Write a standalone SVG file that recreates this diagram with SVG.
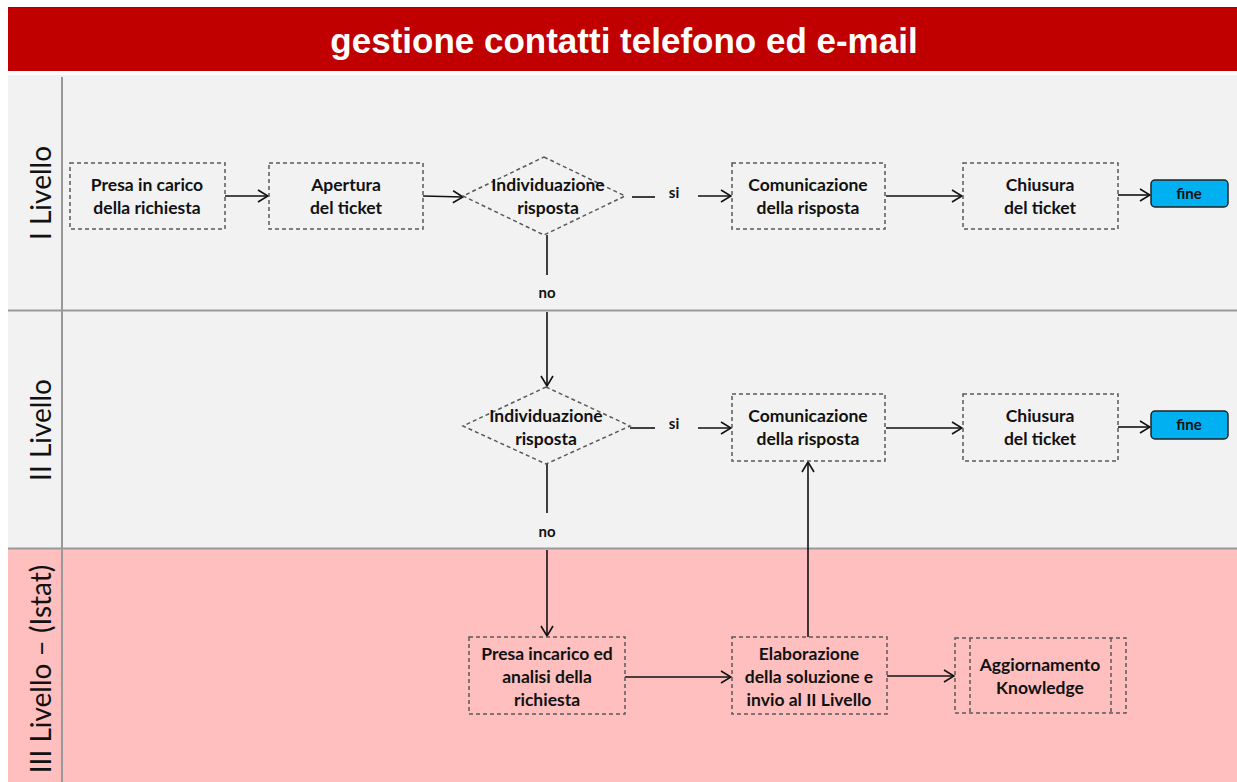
<svg xmlns="http://www.w3.org/2000/svg" width="1237" height="782" viewBox="0 0 1237 782">
<defs>
<style>
.box{fill:none;stroke:#595959;stroke-width:1.5;stroke-dasharray:4 3}
.t{font-family:Lato,"Open Sans",sans-serif;font-weight:bold;font-size:17.5px;fill:#111;text-anchor:middle}
.s{font-size:15px}
.lane{font-family:Lato,"Open Sans",sans-serif;font-size:28px;fill:#111;text-anchor:middle}
.c{fill:none;stroke:#111;stroke-width:1.6}
.fine{fill:#00B0F0;stroke:#222;stroke-width:1.5}
</style>
<marker id="ah" viewBox="0 0 12 14" refX="11" refY="7" markerWidth="12" markerHeight="14" markerUnits="userSpaceOnUse" orient="auto">
<path d="M1,1 L11,7 L1,13" fill="none" stroke="#111" stroke-width="1.6"/>
</marker>
</defs>
<rect x="0" y="0" width="1237" height="782" fill="#fff"/>
<g id="title">
<rect x="8" y="7" width="1229" height="64" fill="#C00000"/>
<line x1="8" y1="7.5" x2="1237" y2="7.5" stroke="#333" stroke-width="1"/>
<text x="624" y="53" font-family="Liberation Sans,Arial,sans-serif" font-weight="bold" font-size="35" fill="#fff" text-anchor="middle">gestione contatti telefono ed e-mail</text>
</g>
<g id="lanes">
<rect x="8" y="75" width="1229" height="235" fill="#F2F2F2"/>
<rect x="8" y="310" width="1229" height="238" fill="#F2F2F2"/>
<rect x="8" y="548" width="1229" height="234" fill="#FFBFBF"/>
<line x1="8" y1="310.5" x2="1237" y2="310.5" stroke="#999" stroke-width="2"/>
<line x1="8" y1="548.5" x2="1237" y2="548.5" stroke="#999" stroke-width="2"/>
<line x1="62" y1="77" x2="62" y2="782" stroke="#999" stroke-width="2"/>
<text class="lane" transform="translate(51,193) rotate(-90)">I Livello</text>
<text class="lane" transform="translate(51,430) rotate(-90)">II Livello</text>
<text class="lane" transform="translate(51,669) rotate(-90)">III Livello – (Istat)</text>
</g>
<g id="connectors">
<line class="c" x1="225" y1="196" x2="268" y2="196" marker-end="url(#ah)"/>
<line class="c" x1="423" y1="196" x2="463" y2="197" marker-end="url(#ah)"/>
<line class="c" x1="632" y1="197" x2="655" y2="197"/>
<line class="c" x1="698" y1="196" x2="731" y2="196" marker-end="url(#ah)"/>
<line class="c" x1="886" y1="196" x2="962" y2="196" marker-end="url(#ah)"/>
<line class="c" x1="1118" y1="195" x2="1150" y2="195" marker-end="url(#ah)"/>
<line class="c" x1="547" y1="235" x2="547" y2="275"/>
<line class="c" x1="547" y1="312" x2="547" y2="386" marker-end="url(#ah)"/>
<line class="c" x1="630" y1="428" x2="655" y2="428"/>
<line class="c" x1="698" y1="428" x2="731" y2="428" marker-end="url(#ah)"/>
<line class="c" x1="886" y1="428" x2="962" y2="428" marker-end="url(#ah)"/>
<line class="c" x1="1118" y1="427" x2="1150" y2="427" marker-end="url(#ah)"/>
<line class="c" x1="547" y1="464" x2="547" y2="513"/>
<line class="c" x1="547" y1="550" x2="547" y2="636" marker-end="url(#ah)"/>
<line class="c" x1="625" y1="677" x2="731" y2="677" marker-end="url(#ah)"/>
<line class="c" x1="808" y1="637" x2="808" y2="462" marker-end="url(#ah)"/>
<line class="c" x1="887" y1="676" x2="954" y2="676" marker-end="url(#ah)"/>
<text class="t s" x="674" y="198">si</text>
<text class="t s" x="547" y="298">no</text>
<text class="t s" x="674" y="429">si</text>
<text class="t s" x="547" y="537">no</text>
</g>
<g id="presa">
<rect class="box" x="70" y="163" width="155" height="66"/>
<text class="t" x="147" y="191">Presa in carico</text>
<text class="t" x="147" y="214">della richiesta</text>
</g>
<g id="apertura">
<rect class="box" x="269" y="163" width="154" height="66"/>
<text class="t" x="346" y="191">Apertura</text>
<text class="t" x="346" y="214">del ticket</text>
</g>
<g id="dec1">
<polygon class="box" points="544,157 625,196 544,235 463,196"/>
<text class="t" x="548" y="191">Individuazione</text>
<text class="t" x="548" y="214">risposta</text>
</g>
<g id="com1">
<rect class="box" x="732" y="163" width="153" height="66"/>
<text class="t" x="808" y="191">Comunicazione</text>
<text class="t" x="808" y="214">della risposta</text>
</g>
<g id="chiu1">
<rect class="box" x="963" y="163" width="155" height="66"/>
<text class="t" x="1040" y="191">Chiusura</text>
<text class="t" x="1040" y="214">del ticket</text>
</g>
<g id="fine1">
<rect class="fine" x="1151" y="180" width="77" height="27" rx="4"/>
<text class="t s" x="1189" y="199">fine</text>
</g>
<g id="dec2">
<polygon class="box" points="546,387 630,426 546,464 463,426"/>
<text class="t" x="546" y="422">Individuazione</text>
<text class="t" x="546" y="445">risposta</text>
</g>
<g id="com2">
<rect class="box" x="732" y="394" width="153" height="67"/>
<text class="t" x="808" y="422">Comunicazione</text>
<text class="t" x="808" y="445">della risposta</text>
</g>
<g id="chiu2">
<rect class="box" x="963" y="394" width="155" height="67"/>
<text class="t" x="1040" y="422">Chiusura</text>
<text class="t" x="1040" y="445">del ticket</text>
</g>
<g id="fine2">
<rect class="fine" x="1151" y="411" width="77" height="28" rx="4"/>
<text class="t s" x="1189" y="430">fine</text>
</g>
<g id="presa3">
<rect class="box" x="469" y="637" width="156" height="77"/>
<text class="t" x="547" y="660">Presa incarico ed</text>
<text class="t" x="547" y="683">analisi della</text>
<text class="t" x="547" y="706">richiesta</text>
</g>
<g id="elab">
<rect class="box" x="732" y="637" width="155" height="77"/>
<text class="t" x="809" y="660">Elaborazione</text>
<text class="t" x="809" y="683">della soluzione e</text>
<text class="t" x="809" y="706">invio al II Livello</text>
</g>
<g id="aggiorn">
<rect class="box" x="955" y="638" width="171" height="75"/>
<line class="box" x1="970" y1="638" x2="970" y2="713"/>
<line class="box" x1="1111" y1="638" x2="1111" y2="713"/>
<text class="t" x="1040" y="671">Aggiornamento</text>
<text class="t" x="1040" y="694">Knowledge</text>
</g>
</svg>
